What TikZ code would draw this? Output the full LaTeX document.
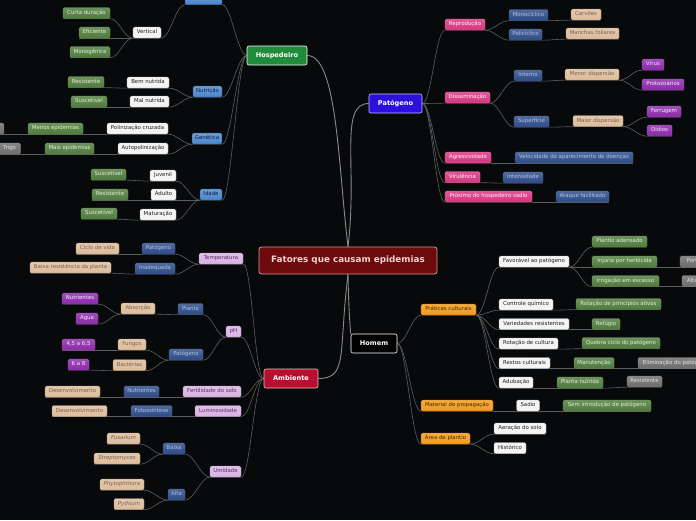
\documentclass[tikz,border=0pt]{standalone}
\usepackage{fontspec}
\setmainfont{DejaVu Sans}
\pgfdeclarelayer{bg}
\pgfsetlayers{bg,main}
\definecolor{cBg}{HTML}{07090B}
\definecolor{cLine}{HTML}{5E5E5E}
\definecolor{cLineM}{HTML}{8A8A8A}
\definecolor{cBlueF}{HTML}{4A86CC}\definecolor{cBlueD}{HTML}{2A5A9A}\definecolor{cBlueT}{HTML}{102040}
\definecolor{cWhiteF}{HTML}{F4F4F4}\definecolor{cWhiteD}{HTML}{B0B0B0}\definecolor{cWhiteT}{HTML}{202020}
\definecolor{cGreenF}{HTML}{4E7A3C}\definecolor{cGreenD}{HTML}{6A9A50}\definecolor{cGreenT}{HTML}{E4ECD8}
\definecolor{cGreyF}{HTML}{6C6C6C}\definecolor{cGreyD}{HTML}{8A8A8A}\definecolor{cGreyT}{HTML}{E2E2E2}
\definecolor{cPinkF}{HTML}{D63480}\definecolor{cPinkD}{HTML}{F070B0}\definecolor{cPinkT}{HTML}{FFF0F6}
\definecolor{cNavyF}{HTML}{2C4A86}\definecolor{cNavyD}{HTML}{4A6AA8}\definecolor{cNavyT}{HTML}{B0C0E4}
\definecolor{cTanF}{HTML}{DCBC9C}\definecolor{cTanD}{HTML}{B89878}\definecolor{cTanT}{HTML}{7A5E4C}
\definecolor{cPurpF}{HTML}{8A28A8}\definecolor{cPurpD}{HTML}{B050D0}\definecolor{cPurpT}{HTML}{F8E8FF}
\definecolor{cLilF}{HTML}{D8B2E2}\definecolor{cLilD}{HTML}{B890C8}\definecolor{cLilT}{HTML}{5A2A6A}
\definecolor{cOrgF}{HTML}{F29A18}\definecolor{cOrgD}{HTML}{C07010}\definecolor{cOrgT}{HTML}{4A2600}
\definecolor{cHospF}{HTML}{1F8B3B}
\definecolor{cPatF}{HTML}{2B0FDC}\definecolor{cPatD}{HTML}{C8C0FF}
\definecolor{cAmbF}{HTML}{B70F2F}\definecolor{cAmbD}{HTML}{F0C0C8}
\definecolor{cCtrF}{HTML}{6C0A0C}\definecolor{cCtrD}{HTML}{D49A9A}\definecolor{cCtrT}{HTML}{F2D2D2}
\tikzset{
  box/.style={rounded corners=1.5pt, minimum height=11pt, inner xsep=1pt, inner ysep=0pt,
    font=\fontsize{5.4}{6}\selectfont, line width=0.35pt, text height=4pt, text depth=1.1pt},
  gl/.style={top color=#1!82!white, bottom color=#1},
  nBlue/.style={box, gl=cBlueF, draw=cBlueD, text=cBlueT},
  nWhite/.style={box, fill=cWhiteF, draw=cWhiteD, text=cWhiteT},
  nGreen/.style={box, gl=cGreenF, draw=cGreenD, text=cGreenT},
  nGrey/.style={box, gl=cGreyF, draw=cGreyD, text=cGreyT},
  nPink/.style={box, gl=cPinkF, draw=cPinkD, text=cPinkT},
  nNavy/.style={box, gl=cNavyF, draw=cNavyD, text=cNavyT},
  nTan/.style={box, gl=cTanF, draw=cTanD, text=cTanT},
  nPurp/.style={box, gl=cPurpF, draw=cPurpD, text=cPurpT},
  nLil/.style={box, gl=cLilF, draw=cLilD, text=cLilT},
  nOrg/.style={box, gl=cOrgF, draw=cOrgD, text=cOrgT},
  mainbox/.style={rounded corners=2pt, minimum height=19pt, inner sep=0pt, line width=0.6pt,
    font=\fontsize{6.6}{8}\selectfont\bfseries, text=white},
  mHosp/.style={mainbox, fill=cHospF, draw=white},
  mPat/.style={mainbox, fill=cPatF, draw=cPatD},
  mAmb/.style={mainbox, fill=cAmbF, draw=cAmbD},
  mHom/.style={mainbox, fill=black, draw=white},
  ctrbox/.style={rounded corners=2.5pt, minimum height=27pt, minimum width=178pt, inner sep=0pt,
    line width=0.8pt, fill=cCtrF, draw=cCtrD, text=cCtrT,
    font=\fontsize{8.8}{10}\selectfont\bfseries},
  conn/.style={draw=cLine, line width=0.6pt},
  mconn/.style={draw=cLineM, line width=0.9pt},
}
\newcommand\nd[6]{\node[#2,minimum width=#5pt] (#1) at (#3,#4) {#6};}
\newcommand\mmL[3]{\draw[conn] (#1.#2) to[out=180,in=0,out distance=9pt,in distance=9pt] (#3.south east) -- (#3.south west);}
\newcommand\mmR[3]{\draw[conn] (#1.#2) to[out=0,in=180,out distance=9pt,in distance=9pt] (#3.south west) -- (#3.south east);}
\begin{document}
\begin{tikzpicture}[x=1pt,y=-1pt]
\begin{pgfonlayer}{bg}
\fill[cBg] (0,0) rectangle (696,520);
\end{pgfonlayer}
\useasboundingbox (0,0) rectangle (696,520);
\clip (0,0) rectangle (696,520);
% centre and main nodes
\node[ctrbox] (ctr) at (348,260.5) {Fatores que causam epidemias};
\node[mHosp, minimum width=60pt] (hosp) at (277,55.5) {Hospedeiro};
\node[mPat, minimum width=53pt] (pat) at (395.5,103.5) {Patógeno};
\node[mAmb, minimum width=54pt] (amb) at (291,378.5) {Ambiente};
\node[mHom, minimum width=46pt] (homem) at (374,343.5) {Homem};
% Hospedeiro
\nd{resis}{nBlue}{203.5}{-1}{37}{Resistência}
\nd{vert}{nWhite}{147}{32.5}{28}{Vertical}
\nd{curta}{nGreen}{86.5}{13}{47}{Curta duração}
\nd{efic}{nGreen}{94.5}{32.5}{31}{Eficiente}
\nd{mono}{nGreen}{90}{52}{40}{Monogênica}
\nd{nutr}{nBlue}{207.5}{91.5}{29}{Nutrição}
\nd{bemn}{nWhite}{148}{82.5}{42}{Bem nutrida}
\nd{maln}{nWhite}{149.5}{101.5}{39}{Mal nutrida}
\nd{resN}{nGreen}{86}{82}{36}{Resistente}
\nd{susN}{nGreen}{89}{101.5}{36}{Suscetível}
\nd{gen}{nBlue}{207}{138.5}{30}{Genética}
\nd{polc}{nWhite}{137.5}{128.5}{61}{Polinização cruzada}
\nd{autop}{nWhite}{143}{148.5}{50}{Autopolinização}
\nd{menos}{nGreen}{55.5}{128.5}{55}{Menos epidemias}
\nd{mais}{nGreen}{69.5}{148.5}{49}{Mais epidemias}
\nd{milho}{nGrey}{-13}{128.5}{34}{Milho}
\nd{trigo}{nGrey}{9.5}{148.5}{22}{Trigo}
\nd{idade}{nBlue}{211}{194.5}{22}{Idade}
\nd{juv}{nWhite}{163}{175.5}{26}{Juvenil}
\nd{adul}{nWhite}{163.5}{194.5}{25}{Adulto}
\nd{matur}{nWhite}{158}{214.5}{36}{Maturação}
\nd{susJ}{nGreen}{108.5}{174.5}{35}{Suscetível}
\nd{resA}{nGreen}{110}{194.5}{36}{Resistente}
\nd{susM}{nGreen}{99}{213.5}{36}{Suscetível}
% Patógeno
\nd{repr}{nPink}{465}{24.5}{40}{Reprodução}
\nd{monoc}{nNavy}{528.5}{15}{39}{Monocíclico}
\nd{polic}{nNavy}{525.5}{34.5}{33}{Policíclico}
\nd{carv}{nTan}{586}{14.5}{30}{Carvões}
\nd{manch}{nTan}{592.5}{33.5}{53}{Manchas foliares}
\nd{diss}{nPink}{467.5}{97.5}{45}{Disseminação}
\nd{inter}{nNavy}{528}{75.5}{28}{Interno}
\nd{super}{nNavy}{531.5}{121.5}{35}{Superfície}
\nd{menor}{nTan}{592}{74.5}{54}{Menor dispersão}
\nd{maior}{nTan}{598}{121}{50}{Maior dispersão}
\nd{virus}{nPurp}{653}{64.5}{22}{Vírus}
\nd{proto}{nPurp}{663}{84.5}{42}{Protozoários}
\nd{ferr}{nPurp}{664}{111.5}{34}{Ferrugem}
\nd{oid}{nPurp}{659.5}{130.5}{25}{Oídios}
\nd{agr}{nPink}{468}{157.5}{46}{Agressividade}
\nd{veloc}{nNavy}{574}{157.5}{118}{Velocidade do aparecimento de doenças}
\nd{viru}{nPink}{462.5}{177}{35}{Virulência}
\nd{inten}{nNavy}{523}{177.5}{40}{Intensidade}
\nd{prox}{nPink}{488.5}{196.5}{87}{Próximo do hospedeiro sadio}
\nd{ataq}{nNavy}{582.5}{196.5}{53}{Ataque facilitado}
% Homem
\nd{prat}{nOrg}{448.5}{309.5}{55}{Práticas culturais}
\nd{fav}{nWhite}{534}{261.5}{70}{Favorável ao patógeno}
\nd{cq}{nWhite}{526}{304.5}{54}{Controle químico}
\nd{vr}{nWhite}{534}{324}{70}{Variedades resistentes}
\nd{rc}{nWhite}{528.5}{343.5}{59}{Rotação de cultura}
\nd{rcu}{nWhite}{524.5}{363}{51}{Restos culturais}
\nd{adub}{nWhite}{516}{382.5}{34}{Adubação}
\nd{plant}{nGreen}{619.5}{241.5}{55}{Plantio adensado}
\nd{inj}{nGreen}{624.5}{261.5}{65}{Injúria por herbicida}
\nd{irr}{nGreen}{625.5}{281}{67}{Irrigação em excesso}
\nd{porte}{nGrey}{702}{261.5}{44}{Porte baixo}
\nd{alta}{nGrey}{705}{281}{46}{Alta umidade}
\nd{rpa}{nGreen}{618.5}{304}{85}{Rotação de princípios ativos}
\nd{ref}{nGreen}{606}{324}{28}{Refúgio}
\nd{qc}{nGreen}{621}{343}{78}{Quebra ciclo do patógeno}
\nd{manu}{nGreen}{594}{363}{40}{Manutenção}
\nd{elim}{nGrey}{675.5}{363}{75}{Eliminação do patógeno}
\nd{pn}{nGreen}{580}{382.5}{46}{Planta nutrida}
\nd{resH}{nGrey}{644.5}{381.5}{35}{Resistente}
\nd{matp}{nOrg}{457}{405.5}{72}{Material de propagação}
\nd{sadio}{nWhite}{528}{405.5}{23}{Sadio}
\nd{semi}{nGreen}{607}{405.5}{88}{Sem introdução de patógeno}
\nd{area}{nOrg}{445.5}{438.5}{49}{Área de plantio}
\nd{aer}{nWhite}{520}{428.5}{52}{Aeração do solo}
\nd{hist}{nWhite}{510}{448}{32}{Histórico}
% Ambiente
\nd{temp}{nLil}{221}{258.5}{44}{Temperatura}
\nd{patT}{nNavy}{158.5}{248.5}{33}{Patógeno}
\nd{inad}{nNavy}{155}{268.5}{40}{Inadequada}
\nd{ciclo}{nTan}{97.5}{248.5}{43}{Ciclo de vida}
\nd{baixa}{nTan}{70.5}{267.5}{81}{Baixa resistência da planta}
\nd{ph}{nLil}{233.5}{331.5}{15}{pH}
\nd{planta}{nNavy}{190.5}{309}{25}{Planta}
\nd{patpH}{nNavy}{186}{354.5}{34}{Patógeno}
\nd{absor}{nTan}{138}{308.5}{34}{Absorção}
\nd{nutrA}{nPurp}{80}{298.5}{36}{Nutrientes}
\nd{agua}{nPurp}{87}{318.5}{22}{Água}
\nd{fung}{nTan}{132}{344.5}{28}{Fungos}
\nd{bact}{nTan}{129.5}{365}{33}{Bactérias}
\nd{phA}{nPurp}{78.5}{344.5}{33}{4,5 a 6,5}
\nd{phB}{nPurp}{78.5}{364.5}{21}{6 a 8}
\nd{fert}{nLil}{212}{391.5}{58}{Fertilidade do solo}
\nd{nutF}{nNavy}{141.5}{391.5}{35}{Nutrientes}
\nd{des1}{nTan}{72.5}{391.5}{55}{Desenvolvimento}
\nd{lum}{nLil}{218}{411}{46}{Luminosidade}
\nd{foto}{nNavy}{151.5}{411}{41}{Fotossíntese}
\nd{des2}{nTan}{79.5}{411}{55}{Desenvolvimento}
\nd{umid}{nLil}{225.5}{471.5}{31}{Umidade}
\nd{baixaU}{nNavy}{174}{448.5}{22}{Baixa}
\nd{altaU}{nNavy}{176.5}{494.5}{17}{Alta}
\nd{fus}{nTan}{123.5}{438.5}{33}{\itshape Fusarium}
\nd{strep}{nTan}{117}{458.5}{46}{\itshape Streptomyces}
\nd{phyto}{nTan}{122}{484.5}{44}{\itshape Phytophthora}
\nd{pyth}{nTan}{129}{504}{30}{\itshape Pythium}
% connectors
\begin{pgfonlayer}{bg}
\draw[mconn] (ctr.north) to[out=97,in=0,out distance=80pt,in distance=30pt] (hosp.east);
\draw[mconn] (ctr.north) to[out=83,in=180,out distance=80pt,in distance=30pt] (pat.west);
\draw[mconn] (ctr.south) to[out=-97,in=0,out distance=80pt,in distance=30pt] (amb.east);
\draw[mconn] (ctr.south) to[out=-89,in=95,out distance=30pt,in distance=10pt] (homem.north west);
% Hospedeiro
\mmL{hosp}{west}{resis}
\mmL{hosp}{west}{nutr}
\mmL{hosp}{west}{gen}
\mmL{hosp}{west}{idade}
\mmL{resis}{south west}{vert}
\mmL{vert}{south west}{curta}
\mmL{vert}{south west}{efic}
\mmL{vert}{south west}{mono}
\mmL{nutr}{south west}{bemn}
\mmL{nutr}{south west}{maln}
\mmL{bemn}{south west}{resN}
\mmL{maln}{south west}{susN}
\mmL{gen}{south west}{polc}
\mmL{gen}{south west}{autop}
\mmL{polc}{south west}{menos}
\mmL{autop}{south west}{mais}
\mmL{menos}{south west}{milho}
\mmL{mais}{south west}{trigo}
\mmL{idade}{south west}{juv}
\mmL{idade}{south west}{adul}
\mmL{idade}{south west}{matur}
\mmL{juv}{south west}{susJ}
\mmL{adul}{south west}{resA}
\mmL{matur}{south west}{susM}
% Patógeno
\mmR{pat}{east}{repr}
\mmR{pat}{east}{diss}
\mmR{pat}{east}{agr}
\mmR{pat}{east}{viru}
\mmR{pat}{east}{prox}
\mmR{repr}{south east}{monoc}
\mmR{repr}{south east}{polic}
\mmR{monoc}{south east}{carv}
\mmR{polic}{south east}{manch}
\mmR{diss}{south east}{inter}
\mmR{diss}{south east}{super}
\mmR{inter}{south east}{menor}
\mmR{super}{south east}{maior}
\mmR{menor}{south east}{virus}
\mmR{menor}{south east}{proto}
\mmR{maior}{south east}{ferr}
\mmR{maior}{south east}{oid}
\mmR{agr}{south east}{veloc}
\mmR{viru}{south east}{inten}
\mmR{prox}{south east}{ataq}
% Homem
\mmR{homem}{east}{prat}
\mmR{homem}{east}{matp}
\mmR{homem}{east}{area}
\mmR{prat}{south east}{fav}
\mmR{prat}{south east}{cq}
\mmR{prat}{south east}{vr}
\mmR{prat}{south east}{rc}
\mmR{prat}{south east}{rcu}
\mmR{prat}{south east}{adub}
\mmR{fav}{south east}{plant}
\mmR{fav}{south east}{inj}
\mmR{fav}{south east}{irr}
\mmR{inj}{south east}{porte}
\mmR{irr}{south east}{alta}
\mmR{cq}{south east}{rpa}
\mmR{vr}{south east}{ref}
\mmR{rc}{south east}{qc}
\mmR{rcu}{south east}{manu}
\mmR{manu}{south east}{elim}
\mmR{adub}{south east}{pn}
\mmR{pn}{south east}{resH}
\mmR{matp}{south east}{sadio}
\mmR{sadio}{south east}{semi}
\mmR{area}{south east}{aer}
\mmR{area}{south east}{hist}
% Ambiente
\mmL{amb}{west}{temp}
\mmL{amb}{west}{ph}
\mmL{amb}{west}{fert}
\mmL{amb}{west}{lum}
\mmL{amb}{west}{umid}
\mmL{temp}{south west}{patT}
\mmL{temp}{south west}{inad}
\mmL{patT}{south west}{ciclo}
\mmL{inad}{south west}{baixa}
\mmL{ph}{south west}{planta}
\mmL{ph}{south west}{patpH}
\mmL{planta}{south west}{absor}
\mmL{absor}{south west}{nutrA}
\mmL{absor}{south west}{agua}
\mmL{patpH}{south west}{fung}
\mmL{patpH}{south west}{bact}
\mmL{fung}{south west}{phA}
\mmL{bact}{south west}{phB}
\mmL{fert}{south west}{nutF}
\mmL{nutF}{south west}{des1}
\mmL{lum}{south west}{foto}
\mmL{foto}{south west}{des2}
\mmL{umid}{south west}{baixaU}
\mmL{umid}{south west}{altaU}
\mmL{baixaU}{south west}{fus}
\mmL{baixaU}{south west}{strep}
\mmL{altaU}{south west}{phyto}
\mmL{altaU}{south west}{pyth}
\end{pgfonlayer}
\end{tikzpicture}
\end{document}
